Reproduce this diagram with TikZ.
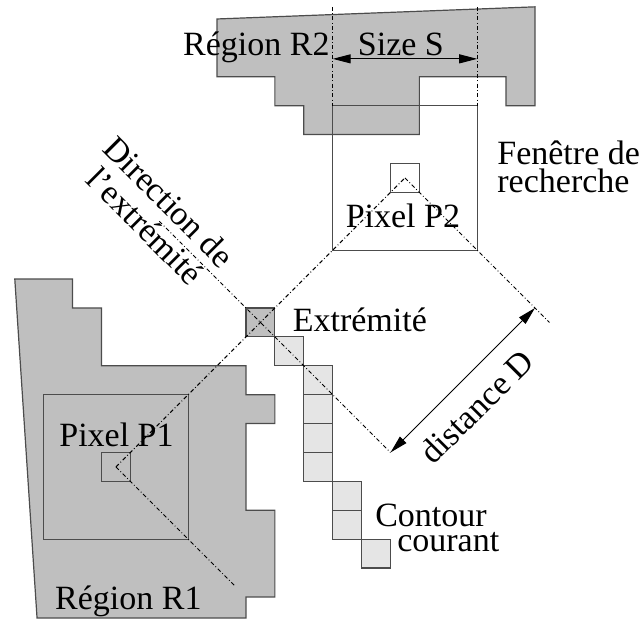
\documentclass[tikz,border=0pt]{standalone}
\usepackage{fontspec}
\setmainfont{Liberation Serif}
\usetikzlibrary{arrows.meta}
\definecolor{fondregion}{gray}{0.75}
\definecolor{fondcontour}{gray}{0.9}
\definecolor{trait}{gray}{0.3}

\begin{document}
\begin{tikzpicture}[x=14.45pt,y=-14.45pt,
    region/.style={fill=fondregion,draw=trait,line width=0.6pt},
    cadre/.style={draw=trait,line width=0.6pt},
    axe/.style={line width=0.5pt,dash pattern=on 2pt off 1.2pt on 0.4pt off 1.2pt},
    cote/.style={line width=0.5pt,>={Triangle[length=9pt,width=4.5pt]},<->},
    etiq/.style={font=\fontsize{17}{17}\selectfont,inner sep=0pt}]
  \useasboundingbox (-8.512,-10.657) rectangle (13.737,11.107);
  % regions R1 et R2
  \draw[region] (-1,-10) -- (-1,-8) -- (1,-8) -- (1,-7) -- (2,-7) -- (2,-6) -- (6,-6)
    -- (6,-8) -- (9,-8) -- (9,-7) -- (10,-7) -- (10,-10.42) -- cycle;
  \draw[region] (-8,-1) -- (-6,-1) -- (-6,0) -- (-5,0) -- (-5,2) -- (0,2) -- (0,3)
    -- (1,3) -- (1,4) -- (0,4) -- (0,7) -- (1,7) -- (1,10) -- (0,10) -- (0,10.73)
    -- (-7.23,10.73) -- cycle;
  % fenetres de recherche et pixels
  \draw[cadre] (-7,3) rectangle (-2,8);
  \draw[cadre] (-5,5) rectangle (-4,6);
  \draw[cadre] (3,-7) rectangle (8,-2);
  \draw[cadre] (5,-5) rectangle (6,-4);
  % contour courant
  \foreach \c/\r in {1/1,2/2,2/3,2/4,2/5,3/6,3/7,4/8}
    \draw[cadre,fill=fondcontour] (\c,\r) rectangle ++(1,1);
  \draw[cadre,fill=fondregion] (0,0) rectangle (1,1);
  % axes
  \coordinate (p1) at (-4.5,5.5);
  \coordinate (ext) at (0.5,0.5);
  \coordinate (p2) at (5.5,-4.5);
  \coordinate (dir) at (-3,-3);
  \coordinate (d1) at (5,5);
  \coordinate (d2) at (10,0);
  \coordinate (q1) at (-0.4,9.6);
  \coordinate (q2) at (10.5,0.5);
  \draw[axe] (p1) -- (ext) -- (p2);
  \draw[axe] (dir) -- (ext) -- (d1);
  \draw[axe] (p1) -- (q1);
  \draw[axe] (p2) -- (q2);
  \draw[cote] (d1) -- (d2);
  % taille S
  \foreach \x [count=\k] in {3,8} {
    \coordinate (h\k) at (\x,-10.42);
    \coordinate (b\k) at (\x,-7);
    \coordinate (s\k) at (\x,-8.62);
    \draw[axe] (h\k) -- (b\k);
  }
  \draw[cote] (s1) -- (s2);
  % textes
  \node[etiq,anchor=base] (r2) at (0.36,-8.75) {Région R2};
  \node[etiq,anchor=base] (taille) at (5.36,-8.75) {Size S};
  \node[etiq,anchor=base west,align=left] (fen) at (8.685,-3.99) {Fenêtre de\\[-3.15pt]recherche};
  \node[etiq,anchor=base] (np2) at (5.43,-2.77) {Pixel P2};
  \node[etiq,anchor=base] (np1) at (-4.48,4.81) {Pixel P1};
  \node[etiq,anchor=base] (next) at (3.94,0.83) {Extrémité};
  \node[etiq,anchor=base] (r1) at (-4.07,10.45) {Région R1};
  \node[etiq,anchor=base west,align=left] (cont) at (4.46,8.44) {Contour\\[-4.5pt]\hspace*{11pt}courant};
  \node[etiq,anchor=base,rotate=45] (dist) at (8.27,3.70) {distance D};
  \node[etiq,anchor=base,align=center,rotate=-45] (direc) at (-3.78,-2.56) {Direction de\\l'extrémité};
\end{tikzpicture}
\end{document}
